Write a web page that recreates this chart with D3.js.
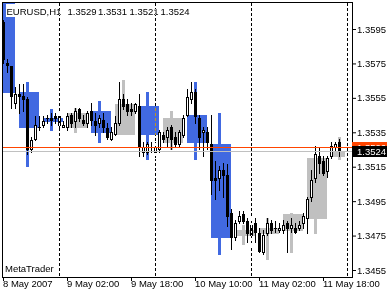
<!DOCTYPE html>
<html>
<head>
<meta charset="utf-8">
<script src="https://cdn.jsdelivr.net/npm/d3@7"></script>
<style>
  html, body { margin: 0; padding: 0; background: #fff; }
  svg { display: block; }
  text { font-family: "Liberation Sans", Arial, sans-serif; font-size: 9.5px; }
</style>
</head>
<body>
<div id="chart"></div>
<script>
// EURUSD H1, 8 May 2007 10:00 .. 11 May 22:00
const symbolLabel = 'EURUSD,H1';

const barOpen = [
  1.3599, 1.3575, 1.3573, 1.3552, 1.3557, 1.3556, 1.3554, 1.3525, 1.3531, 1.3538,
  1.3539, 1.3543, 1.3543, 1.3544, 1.3544, 1.3538, 1.3538, 1.3545, 1.3541, 1.3548,
  1.3542, 1.3540, 1.3547, 1.3541, 1.3540, 1.3542, 1.3537, 1.3531, 1.3534, 1.3540,
  1.3554, 1.3551, 1.3548, 1.3547, 1.3550, 1.3523, 1.3523, 1.3526, 1.3526, 1.3525,
  1.3533, 1.3532, 1.3538, 1.3532, 1.3528, 1.3533, 1.3545, 1.3554, 1.3558, 1.3543,
  1.3535, 1.3535, 1.3528, 1.3508, 1.3508, 1.3513, 1.3510, 1.3488, 1.3474, 1.3483,
  1.3487, 1.3483, 1.3475, 1.3482, 1.3476, 1.3465, 1.3476, 1.3482, 1.3479, 1.3478,
  1.3478, 1.3482, 1.3479, 1.3479, 1.3479, 1.3482, 1.3485, 1.3497, 1.3508, 1.3521,
  1.3518, 1.3512, 1.3521, 1.3526, 1.3529
];
const barHigh = [
  1.3600, 1.3577, 1.3573, 1.3561, 1.3563, 1.3563, 1.3555, 1.3532, 1.3544, 1.3544,
  1.3544, 1.3545, 1.3546, 1.3546, 1.3546, 1.3541, 1.3546, 1.3546, 1.3549, 1.3549,
  1.3545, 1.3547, 1.3552, 1.3546, 1.3545, 1.3546, 1.3540, 1.3538, 1.3544, 1.3564,
  1.3557, 1.3554, 1.3552, 1.3552, 1.3557, 1.3529, 1.3529, 1.3529, 1.3529, 1.3536,
  1.3535, 1.3538, 1.3539, 1.3535, 1.3536, 1.3545, 1.3560, 1.3564, 1.3560, 1.3545,
  1.3538, 1.3538, 1.3545, 1.3518, 1.3515, 1.3517, 1.3516, 1.3490, 1.3484, 1.3489,
  1.3489, 1.3485, 1.3485, 1.3485, 1.3479, 1.3478, 1.3485, 1.3484, 1.3483, 1.3482,
  1.3484, 1.3483, 1.3485, 1.3482, 1.3483, 1.3488, 1.3497, 1.3513, 1.3527, 1.3526,
  1.3521, 1.3521, 1.3529, 1.3529, 1.3531
];
const barLow = [
  1.3575, 1.3570, 1.3549, 1.3549, 1.3546, 1.3547, 1.3522, 1.3523, 1.3530, 1.3536,
  1.3538, 1.3540, 1.3539, 1.3540, 1.3538, 1.3538, 1.3536, 1.3538, 1.3538, 1.3541,
  1.3539, 1.3538, 1.3539, 1.3533, 1.3538, 1.3535, 1.3531, 1.3530, 1.3533, 1.3539,
  1.3548, 1.3545, 1.3545, 1.3546, 1.3521, 1.3521, 1.3522, 1.3523, 1.3520, 1.3523,
  1.3529, 1.3526, 1.3525, 1.3526, 1.3527, 1.3532, 1.3544, 1.3552, 1.3540, 1.3525,
  1.3521, 1.3525, 1.3499, 1.3496, 1.3501, 1.3497, 1.3480, 1.3467, 1.3472, 1.3482,
  1.3482, 1.3471, 1.3469, 1.3471, 1.3465, 1.3464, 1.3475, 1.3476, 1.3477, 1.3477,
  1.3476, 1.3465, 1.3477, 1.3476, 1.3478, 1.3479, 1.3476, 1.3495, 1.3506, 1.3511,
  1.3510, 1.3509, 1.3520, 1.3524, 1.3521
];
const barClose = [
  1.3577, 1.3574, 1.3556, 1.3557, 1.3556, 1.3554, 1.3525, 1.3530, 1.3539, 1.3538,
  1.3541, 1.3543, 1.3542, 1.3543, 1.3539, 1.3539, 1.3544, 1.3540, 1.3547, 1.3543,
  1.3540, 1.3546, 1.3542, 1.3539, 1.3543, 1.3538, 1.3532, 1.3535, 1.3540, 1.3554,
  1.3550, 1.3547, 1.3547, 1.3551, 1.3526, 1.3526, 1.3528, 1.3526, 1.3523, 1.3535,
  1.3531, 1.3536, 1.3531, 1.3528, 1.3535, 1.3543, 1.3555, 1.3558, 1.3544, 1.3532,
  1.3536, 1.3529, 1.3507, 1.3507, 1.3513, 1.3510, 1.3486, 1.3474, 1.3482, 1.3486,
  1.3483, 1.3476, 1.3481, 1.3477, 1.3466, 1.3475, 1.3482, 1.3478, 1.3479, 1.3479,
  1.3481, 1.3479, 1.3481, 1.3477, 1.3481, 1.3486, 1.3496, 1.3507, 1.3522, 1.3517,
  1.3511, 1.3520, 1.3527, 1.3528, 1.3524
];

// 6-hour blocks behind the hourly bars (first bar index of each block)
const boxStart = [-2, 4, 10, 16, 22, 28, 34, 40, 46, 52, 58, 64, 70, 76, 82];
const boxOpen  = [1.3615, 1.3558, 1.3543, 1.3538, 1.3547, 1.3534, 1.3550, 1.3529, 1.3545, 1.3528, 1.3475, 1.3476, 1.3478, 1.3485, 1.3521];
const boxHigh  = [1.3620, 1.3564, 1.3548, 1.3549, 1.3553, 1.3565, 1.3558, 1.3547, 1.3564, 1.3546, 1.3481, 1.3485, 1.3488, 1.3521, 1.3532];
const boxLow   = [1.3558, 1.3515, 1.3536, 1.3535, 1.3529, 1.3534, 1.3519, 1.3525, 1.3519, 1.3464, 1.3470, 1.3461, 1.3465, 1.3476, 1.3519];
const boxClose = [1.3558, 1.3538, 1.3541, 1.3546, 1.3535, 1.3551, 1.3534, 1.3543, 1.3529, 1.3474, 1.3478, 1.3479, 1.3487, 1.3520, 1.3524];

const timeTickBars = [0, 16, 32, 48, 64, 80];
const timeTickLabels = ['8 May 2007', '9 May 02:00', '9 May 18:00', '10 May 10:00', '11 May 02:00', '11 May 18:00'];
const gridBars = [14, 38, 62, 86];
const priceTicks = [1.3595, 1.3575, 1.3555, 1.3535, 1.3515, 1.3495, 1.3475, 1.3455];
const bidPrice = 1.3524;
const askPrice = 1.3526;

const W = 389, H = 295;
const plotLeft = 2, plotTop = 2, plotRight = 352, plotBottom = 277;
const lastBar = barOpen.length - 1;

const xs = d3.scaleLinear().domain([0, lastBar]).range([3.5, 3.5 + 4 * lastBar]);
const y = d3.scaleLinear().domain([1.3455, 1.3595]).range([270, 29]);
const py = p => Math.floor(y(p));
const fmt = d3.format('.4f');

const svg = d3.select('#chart').append('svg')
  .attr('width', W)
  .attr('height', H);

svg.append('rect').attr('width', W).attr('height', H).attr('fill', '#fff');

const defs = svg.append('defs');
defs.append('clipPath').attr('id', 'plotClip')
  .append('rect')
  .attr('x', plotLeft + 1).attr('y', plotTop + 1)
  .attr('width', plotRight - plotLeft - 1).attr('height', plotBottom - plotTop - 1);

const plot = svg.append('g').attr('clip-path', 'url(#plotClip)');

// background blocks
const boxes = boxStart.map((s, i) => ({ s, o: boxOpen[i], h: boxHigh[i], l: boxLow[i], c: boxClose[i] }));
const boxColor = d => d.c >= d.o ? '#c0c0c0' : '#4169e1';

plot.selectAll('.boxWick').data(boxes).enter().append('rect')
  .attr('class', 'boxWick')
  .attr('x', d => xs(d.s + 2) - 1.5)
  .attr('y', d => py(d.h))
  .attr('width', 3)
  .attr('height', d => py(d.l) - py(d.h) + 1)
  .attr('fill', boxColor);

plot.selectAll('.boxBody').data(boxes).enter().append('rect')
  .attr('class', 'boxBody')
  .attr('x', d => xs(d.s) - 0.5)
  .attr('y', d => py(Math.max(d.o, d.c)))
  .attr('width', d => Math.min(xs(d.s + 5), xs(lastBar) + 6) - xs(d.s))
  .attr('height', d => Math.max(1, py(Math.min(d.o, d.c)) - py(Math.max(d.o, d.c)) + 1))
  .attr('fill', boxColor);

// hourly candles
const bars = barOpen.map((o, i) => ({ i, o, h: barHigh[i], l: barLow[i], c: barClose[i] }));

plot.selectAll('.wick').data(bars).enter().append('rect')
  .attr('class', 'wick')
  .attr('x', d => xs(d.i) - 0.5)
  .attr('y', d => py(d.h))
  .attr('width', 1)
  .attr('height', d => py(d.l) - py(d.h) + 1)
  .attr('fill', '#000');

plot.selectAll('.down').data(bars.filter(d => d.c <= d.o)).enter().append('rect')
  .attr('class', 'down')
  .attr('x', d => xs(d.i) - 1.5)
  .attr('y', d => py(d.o))
  .attr('width', 3)
  .attr('height', d => py(d.c) - py(d.o) + 1)
  .attr('fill', '#000');

plot.selectAll('.up').data(bars.filter(d => d.c > d.o)).enter().append('rect')
  .attr('class', 'up')
  .attr('x', d => xs(d.i) - 1)
  .attr('y', d => py(d.c) + 0.5)
  .attr('width', 2)
  .attr('height', d => Math.max(1, py(d.o) - py(d.c)))
  .attr('fill', '#fff')
  .attr('stroke', '#000')
  .attr('stroke-width', 1);

// bid / ask lines
plot.append('line')
  .attr('x1', plotLeft).attr('x2', plotRight)
  .attr('y1', py(bidPrice) + 0.5).attr('y2', py(bidPrice) + 0.5)
  .attr('stroke', '#c0c0c0');
plot.append('line')
  .attr('x1', plotLeft).attr('x2', plotRight)
  .attr('y1', py(askPrice) + 0.5).attr('y2', py(askPrice) + 0.5)
  .attr('stroke', '#ff4500');

// title
const last = bars[lastBar];
svg.append('rect').attr('x', 6).attr('y', 4).attr('width', 183).attr('height', 13).attr('fill', '#fff');
const titleParts = [symbolLabel, fmt(last.o), fmt(last.h), fmt(last.l), fmt(last.c)];
const titleX = [6.5, 67.5, 98, 129.5, 160.5];
svg.selectAll('.title').data(titleParts).enter().append('text')
  .attr('class', 'title')
  .attr('x', (d, i) => titleX[i])
  .attr('y', 15)
  .attr('fill', '#000')
  .text(d => d);

svg.append('text')
  .attr('x', 5).attr('y', 272)
  .attr('fill', '#000')
  .text('MetaTrader');

// vertical grid, drawn inverted like the terminal does
svg.selectAll('.grid').data(gridBars).enter().append('line')
  .attr('class', 'grid')
  .attr('x1', d => xs(d)).attr('x2', d => xs(d))
  .attr('y1', plotTop + 1).attr('y2', plotBottom)
  .attr('stroke', '#fff')
  .attr('stroke-dasharray', '3,2')
  .style('mix-blend-mode', 'difference');

// frame
svg.append('rect')
  .attr('x', plotLeft + 0.5).attr('y', plotTop + 0.5)
  .attr('width', plotRight - plotLeft).attr('height', plotBottom - plotTop)
  .attr('fill', 'none').attr('stroke', '#000');

// price axis
const yAxis = d3.axisRight(y)
  .tickValues(priceTicks)
  .tickSize(3)
  .tickPadding(1)
  .tickFormat(fmt);
svg.append('g')
  .attr('transform', `translate(${plotRight + 1},0)`)
  .call(yAxis)
  .call(g => g.select('.domain').remove())
  .call(g => g.attr('font-family', null).attr('font-size', null))
  .call(g => g.selectAll('text').attr('fill', '#000'));

// time axis
const xAxis = d3.axisBottom(xs)
  .tickValues(timeTickBars)
  .tickSize(3)
  .tickPadding(-1)
  .tickFormat((d, i) => timeTickLabels[i]);
svg.append('g')
  .attr('transform', `translate(-0.5,${plotBottom + 1})`)
  .call(xAxis)
  .call(g => g.select('.domain').remove())
  .call(g => g.attr('font-family', null).attr('font-size', null))
  .call(g => g.selectAll('text').attr('text-anchor', 'start').attr('dx', -0.5).attr('fill', '#000'));

// price labels: the ask tag sits under the bid tag, only its top strip shows
const bidRow = py(bidPrice);
const askRow = py(askPrice);
defs.append('clipPath').attr('id', 'askClip')
  .append('rect')
  .attr('x', plotRight).attr('y', askRow - 5)
  .attr('width', 40).attr('height', Math.max(0, bidRow - askRow));

const askTag = svg.append('g').attr('clip-path', 'url(#askClip)');
askTag.append('rect').attr('x', plotRight).attr('y', askRow - 5).attr('width', 35).attr('height', 11).attr('fill', '#ff4500');
askTag.append('text').attr('x', plotRight + 5).attr('y', askRow + 3.5).attr('fill', '#fff').text(fmt(askPrice));

const bidTag = svg.append('g');
bidTag.append('rect').attr('x', plotRight).attr('y', bidRow - 5).attr('width', 35).attr('height', 11).attr('fill', '#000');
bidTag.append('text').attr('x', plotRight + 5).attr('y', bidRow + 3.5).attr('fill', '#fff').text(fmt(bidPrice));
</script>
</body>
</html>
